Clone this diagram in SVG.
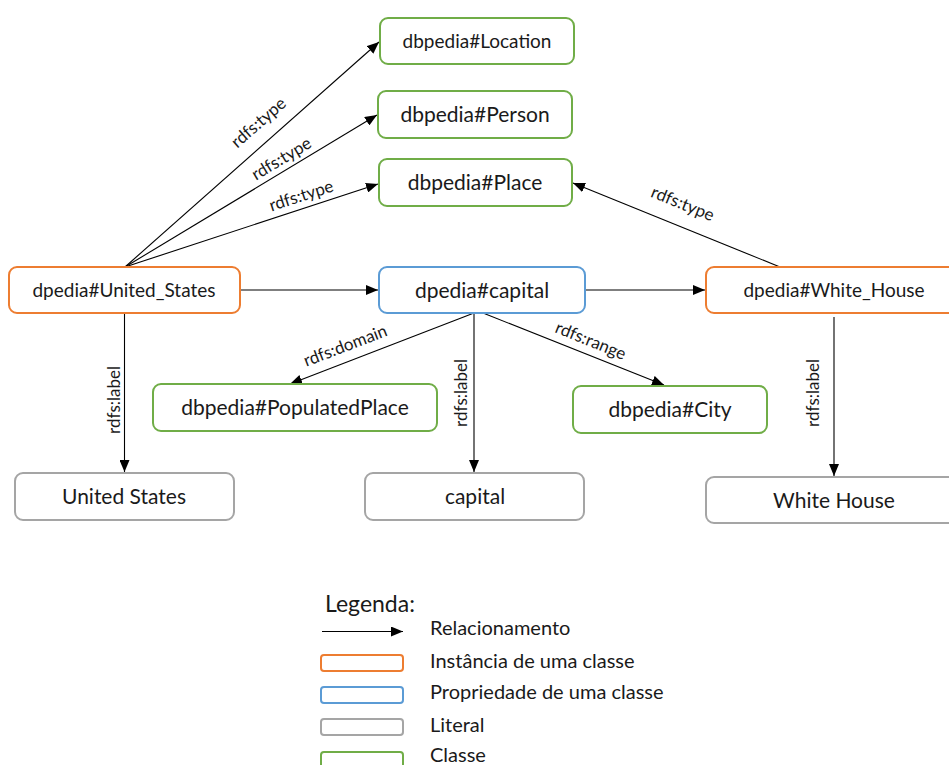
<svg xmlns="http://www.w3.org/2000/svg" width="949" height="765" viewBox="0 0 949 765">
<defs>
<marker id="arr" viewBox="0 0 12 10" refX="12" refY="5" markerWidth="12" markerHeight="10" markerUnits="userSpaceOnUse" orient="auto">
<path d="M0,0 L12,5 L0,10 Z" fill="#000"/>
</marker>
<style>
.n{fill:#fff;stroke-width:2}
.inst{stroke:#ED7D31}
.prop{stroke:#5B9BD5}
.lit{stroke:#A5A5A5}
.cls{stroke:#70AD47}
.t{font-family:Lato,"Liberation Sans",sans-serif;fill:#1a1a1a;text-anchor:middle}
.big{font-size:21px}
.sm{font-size:19px}
.e{fill:none;stroke:#000;stroke-width:1.1;marker-end:url(#arr)}
.el{font-family:Lato,"Liberation Sans",sans-serif;font-size:17px;fill:#1a1a1a;text-anchor:middle;dominant-baseline:central}
.lg{font-family:Lato,"Liberation Sans",sans-serif;font-size:20px;fill:#1a1a1a}
</style>
</defs>
<rect width="949" height="765" fill="#fff"/>
<g id="connectors">
<line class="e" x1="125" y1="267" x2="379" y2="42"/>
<line class="e" x1="125" y1="267" x2="377" y2="115"/>
<line class="e" x1="125" y1="267" x2="378" y2="184"/>
<line class="e" x1="240" y1="290" x2="378" y2="290"/>
<line class="e" x1="585" y1="290" x2="705" y2="290"/>
<line class="e" x1="780" y1="267" x2="573" y2="183"/>
<line class="e" x1="474" y1="313" x2="290" y2="384"/>
<line class="e" x1="474" y1="313" x2="474" y2="472"/>
<line class="e" x1="483" y1="313" x2="664" y2="385"/>
<line class="e" x1="124.5" y1="313" x2="124.5" y2="472"/>
<line class="e" x1="834" y1="317" x2="834" y2="476"/>
<text class="el" transform="translate(258,122) rotate(-41)">rdfs:type</text>
<text class="el" transform="translate(281,158) rotate(-31)">rdfs:type</text>
<text class="el" transform="translate(301,195) rotate(-18)">rdfs:type</text>
<text class="el" transform="translate(683,203) rotate(22)">rdfs:type</text>
<text class="el" transform="translate(345,345) rotate(-21)">rdfs:domain</text>
<text class="el" transform="translate(591,340) rotate(22)">rdfs:range</text>
<text class="el" transform="translate(113,400) rotate(-90)">rdfs:label</text>
<text class="el" transform="translate(460,393) rotate(-90)">rdfs:label</text>
<text class="el" transform="translate(812,393) rotate(-90)">rdfs:label</text>
</g>
<g id="location"><rect class="n cls" x="380" y="18" width="194" height="46" rx="8"/><text class="t sm" x="477" y="48">dbpedia#Location</text></g>
<g id="person"><rect class="n cls" x="378" y="91" width="194" height="47" rx="8"/><text class="t big" x="475" y="122">dbpedia#Person</text></g>
<g id="place"><rect class="n cls" x="379" y="159" width="193" height="47" rx="8"/><text class="t big" x="475" y="190">dbpedia#Place</text></g>
<g id="united_states"><rect class="n inst" x="9" y="267" width="231" height="46" rx="8"/><text class="t sm" x="124" y="297">dpedia#United_States</text></g>
<g id="capital"><rect class="n prop" x="379" y="267" width="206" height="46" rx="8"/><text class="t big" x="482" y="298">dpedia#capital</text></g>
<g id="white_house"><rect class="n inst" x="706" y="267" width="256" height="46" rx="8"/><text class="t sm" x="834" y="297">dpedia#White_House</text></g>
<g id="populated_place"><rect class="n cls" x="153" y="384" width="284" height="47" rx="8"/><text class="t big" x="295" y="415">dbpedia#PopulatedPlace</text></g>
<g id="city"><rect class="n cls" x="573" y="386" width="194" height="47" rx="8"/><text class="t big" x="670" y="417">dbpedia#City</text></g>
<g id="lit_united_states"><rect class="n lit" x="15" y="473" width="219" height="47" rx="8"/><text class="t big" x="124" y="504">United States</text></g>
<g id="lit_capital"><rect class="n lit" x="365" y="473" width="219" height="47" rx="8"/><text class="t big" x="475" y="504">capital</text></g>
<g id="lit_white_house"><rect class="n lit" x="706" y="477" width="256" height="46" rx="8"/><text class="t big" x="834" y="508">White House</text></g>
<g id="legend">
<text class="lg" x="325" y="612" style="font-size:23px">Legenda:</text>
<line x1="322" y1="631.5" x2="403" y2="631.5" stroke="#000" stroke-width="1.1" marker-end="url(#arr)"/>
<rect class="n inst" x="321" y="655" width="82" height="16" rx="3"/>
<rect class="n prop" x="321" y="687" width="82" height="16" rx="3"/>
<rect class="n lit" x="321" y="719" width="82" height="16" rx="3"/>
<rect class="n cls" x="321" y="752" width="82" height="16" rx="3"/>
<text class="lg" x="430" y="635">Relacionamento</text>
<text class="lg" x="430" y="668">Instância de uma classe</text>
<text class="lg" x="430" y="699">Propriedade de uma classe</text>
<text class="lg" x="430" y="732">Literal</text>
<text class="lg" x="430" y="762">Classe</text>
</g>
</svg>
